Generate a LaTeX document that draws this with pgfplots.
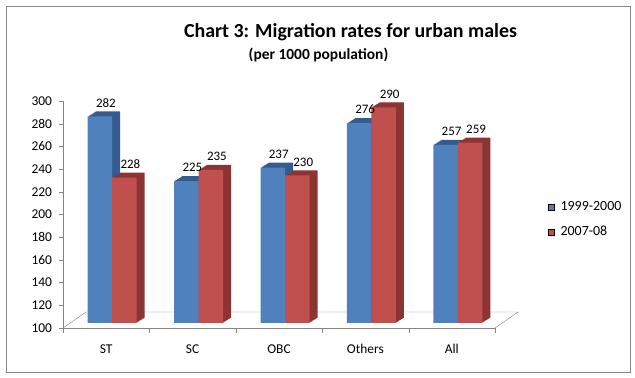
\documentclass[border=0pt]{standalone}
\usepackage{pgfplots}
\pgfplotsset{compat=1.18}
\usepackage{pgfplotstable}
\usepackage{fontspec}
\setmainfont{Carlito}
\definecolor{b1}{HTML}{4F81BD}
\definecolor{b2}{HTML}{355C8E}
\definecolor{r1}{HTML}{C0504D}
\definecolor{r2}{HTML}{8C3431}
\definecolor{ax}{HTML}{868686}
\pgfplotstableread{
x v
0 282
1 225
2 237
3 276
4 257
}\dataA
\pgfplotstableread{
x v
0 228
1 235
2 230
3 290
4 259
}\dataB
\tikzset{extrude/.style={
 preaction={fill=#1,transform canvas={xshift=1bp,yshift=0.625bp}},
 preaction={fill=#1,transform canvas={xshift=2bp,yshift=1.25bp}},
 preaction={fill=#1,transform canvas={xshift=3bp,yshift=1.875bp}},
 preaction={fill=#1,transform canvas={xshift=4bp,yshift=2.5bp}},
 preaction={fill=#1,transform canvas={xshift=5bp,yshift=3.125bp}},
 preaction={fill=#1,transform canvas={xshift=6bp,yshift=3.75bp}},
 preaction={fill=#1,transform canvas={xshift=7bp,yshift=4.375bp}},
 preaction={fill=#1,transform canvas={xshift=8bp,yshift=5bp}}
}}
\begin{document}
\begin{tikzpicture}
\begin{axis}[
  at={(63bp,50bp)}, anchor=south west,
  width=432bp, height=227bp, scale only axis,
  xmin=-0.5, xmax=4.5, ymin=0, ymax=200,
  axis x line=bottom, axis y line=left,
  axis line style={draw=ax,-},
  xtick={-0.5,0.5,1.5,2.5,3.5,4.5}, xticklabels={},
  extra x ticks={0,1,2,3,4},
  extra x tick labels={ST,SC,OBC,Others,All},
  extra x tick style={major tick length=0pt, xticklabel style={yshift=-13bp}},
  ytick={0,20,40,60,80,100,120,140,160,180,200},
  yticklabels={100,120,140,160,180,200,220,240,260,280,300},
  tick align=outside,
  major tick length=4.5bp,
  tick style={draw=ax},
  /pgf/number format/assume math mode=true,
  tick label style={font=\fontsize{13.5}{15}\selectfont, text=black},
  yticklabel style={xshift=-3bp},
  clip=false,
  legend image code/.code={\fill[#1] (0bp,-3bp) rectangle (6bp,3bp); \path (10.5bp,0bp);},
  legend style={at={(1.1227,0.478)}, anchor=west, draw=none, fill=none,
    font=\fontsize{14}{16}\selectfont, row sep=11bp, inner sep=0pt,
    nodes={inner sep=1.5bp}},
  legend cell align=left,
  every node near coord/.append style={font=\fontsize{13}{15}\selectfont, text=black, anchor=south, inner sep=1bp, yshift=3bp},
]
\draw[ax] (rel axis cs:0,0) -- ([shift={(23bp,16bp)}]rel axis cs:0,0) -- ([shift={(23bp,16bp)}]rel axis cs:1,0) -- (rel axis cs:1,0);
\addplot[ybar, bar width=24.5bp, bar shift=-12.25bp, fill=b1, draw=none, extrude=b2,
  transform canvas={xshift=6bp,yshift=5bp},
  nodes near coords, point meta=explicit, forget plot,
  every node near coord/.append style={xshift=-12.25bp}]
  table[x=x, y expr=\thisrow{v}-100, meta=v] {\dataA};
\addplot[ybar, bar width=24.5bp, bar shift=12.25bp, fill=r1, draw=none, extrude=r2,
  transform canvas={xshift=6bp,yshift=5bp},
  nodes near coords, point meta=explicit, forget plot,
  every node near coord/.append style={xshift=12.25bp}]
  table[x=x, y expr=\thisrow{v}-100, meta=v] {\dataB};
\addlegendimage{fill=b1}
\addlegendentry{1999-2000}
\addlegendimage{fill=r1}
\addlegendentry{2007-08}
\end{axis}
\node[anchor=base, font=\fontsize{20}{24}\selectfont\bfseries] at (350.5bp,340bp) {Chart 3: Migration rates for urban males};
\node[anchor=base, font=\fontsize{15.5}{18}\selectfont\bfseries] at (318.5bp,318bp) {(per 1000 population)};
\draw[ax, line width=0.8bp] (6bp,6bp) rectangle (630bp,372bp);
\pgfresetboundingbox
\useasboundingbox (0,0) rectangle (635bp,378bp);
\end{tikzpicture}
\end{document}
